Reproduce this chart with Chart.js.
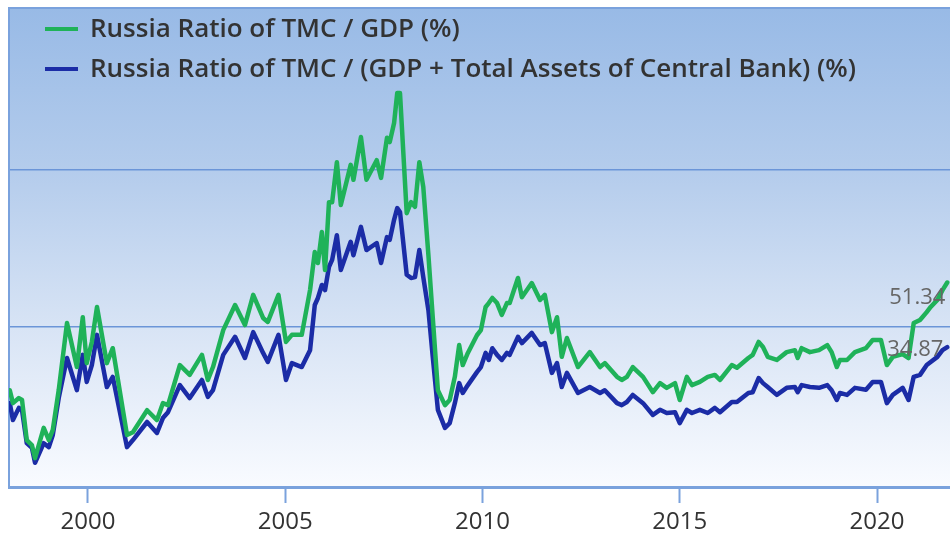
<!DOCTYPE html>
<html>
<head>
<meta charset="utf-8">
<script src="https://cdn.jsdelivr.net/npm/chart.js@4/dist/chart.umd.min.js"></script>
<style>
  html, body { margin: 0; padding: 0; background: #fff; overflow: hidden; }
  #wrap { width: 950px; height: 534px; }
</style>
</head>
<body>
<div id="wrap"><canvas id="tmcChart" width="950" height="534"></canvas></div>
<script>
// dates as decimal years
const dates = [
  1998.02, 1998.10, 1998.25, 1998.33, 1998.45, 1998.58, 1998.66, 1998.88, 1999.01, 1999.11,
  1999.26, 1999.47, 1999.72, 1999.87, 1999.97, 2000.10, 2000.23, 2000.48, 2000.63, 2000.99,
  2001.14, 2001.50, 2001.75, 2001.90, 2002.03, 2002.33, 2002.58, 2002.89, 2003.04, 2003.17,
  2003.43, 2003.73, 2003.98, 2004.19, 2004.44, 2004.56, 2004.83, 2005.02, 2005.17, 2005.42,
  2005.63, 2005.75, 2005.83, 2005.93, 2006.01, 2006.11, 2006.19, 2006.31, 2006.41, 2006.66,
  2006.73, 2006.92, 2007.06, 2007.32, 2007.43, 2007.58, 2007.65, 2007.76, 2007.84, 2007.91,
  2008.08, 2008.19, 2008.29, 2008.40, 2008.50, 2008.63, 2008.74, 2008.87, 2009.05, 2009.17,
  2009.30, 2009.41, 2009.50, 2009.63, 2009.86, 2009.96, 2010.08, 2010.16, 2010.25, 2010.37,
  2010.49, 2010.62, 2010.69, 2010.90, 2011.00, 2011.25, 2011.46, 2011.58, 2011.76, 2011.89,
  2012.01, 2012.14, 2012.42, 2012.72, 2012.98, 2013.10, 2013.41, 2013.53, 2013.66, 2013.81,
  2014.07, 2014.32, 2014.50, 2014.67, 2014.88, 2015.00, 2015.18, 2015.31, 2015.51, 2015.71,
  2015.89, 2016.02, 2016.32, 2016.45, 2016.74, 2016.85, 2017.00, 2017.11, 2017.23, 2017.46,
  2017.71, 2017.92, 2017.99, 2018.09, 2018.30, 2018.53, 2018.74, 2018.85, 2018.98, 2019.06,
  2019.24, 2019.44, 2019.72, 2019.89, 2020.10, 2020.25, 2020.40, 2020.65, 2020.80, 2020.93,
  2021.09, 2021.26, 2021.36, 2021.53, 2021.66, 2021.78
];

// Russia Ratio of TMC / GDP (%)
const tmcGdp = [
  23.9, 20.6, 21.9, 21.4, 11.2, 9.9, 6.6, 14.3, 11.2, 13.8,
  23.9, 41.0, 29.8, 42.5, 30.8, 36.2, 45.1, 30.8, 34.6, 12.5,
  13.2, 18.8, 16.3, 20.6, 20.1, 30.3, 27.8, 32.9, 26.5, 29.8,
  39.2, 45.6, 40.5, 48.2, 42.3, 41.3, 48.2, 36.2, 38.0, 38.0,
  49.4, 59.1, 56.3, 64.2, 54.5, 71.8, 71.8, 82.0, 71.1, 81.3,
  77.5, 88.4, 77.5, 82.5, 78.0, 88.2, 87.1, 92.0, 99.6, 99.6,
  69.0, 71.8, 70.6, 82.0, 75.7, 58.3, 42.5, 23.9, 20.1, 21.4,
  27.3, 35.4, 30.3, 33.4, 37.9, 39.2, 45.1, 46.1, 47.4, 46.1,
  43.1, 46.1, 46.1, 52.5, 47.6, 51.2, 46.9, 48.2, 38.7, 42.5,
  32.4, 37.2, 29.8, 33.6, 29.8, 30.8, 27.3, 26.5, 27.3, 29.8,
  27.3, 23.4, 25.7, 24.5, 25.7, 21.4, 27.3, 25.2, 26.0, 27.3,
  27.8, 26.5, 30.3, 29.6, 32.1, 32.9, 36.2, 34.9, 32.4, 31.6,
  33.6, 34.1, 32.1, 34.6, 33.6, 34.1, 35.4, 33.6, 29.8, 31.6,
  31.6, 33.6, 34.6, 36.7, 36.7, 30.3, 32.4, 33.1, 32.1, 41.0,
  41.8, 43.8, 45.1, 46.9, 49.4, 51.34
];

// Russia Ratio of TMC / (GDP + Total Assets of Central Bank) (%)
const tmcGdpCb = [
  20.6, 16.3, 19.4, 18.8, 10.4, 9.2, 5.4, 10.4, 9.4, 12.5,
  21.9, 32.1, 23.9, 32.9, 26.0, 30.3, 38.0, 24.7, 27.3, 9.4,
  11.2, 15.8, 13.0, 16.8, 18.3, 25.2, 21.9, 26.5, 22.2, 23.9,
  32.9, 37.5, 32.1, 38.7, 33.4, 31.1, 38.0, 26.5, 30.8, 29.8,
  34.1, 45.6, 47.4, 50.7, 49.4, 55.3, 57.1, 63.4, 54.5, 61.7,
  58.3, 65.5, 59.6, 61.4, 56.3, 62.9, 62.2, 67.3, 70.3, 69.3,
  53.3, 52.5, 52.7, 59.6, 52.7, 44.3, 32.4, 18.9, 14.3, 15.5,
  20.6, 25.7, 23.2, 25.2, 28.5, 29.8, 33.4, 31.6, 34.6, 32.9,
  31.6, 33.4, 32.9, 37.5, 35.9, 38.5, 35.4, 35.9, 28.3, 30.8,
  24.7, 28.3, 23.2, 24.7, 23.2, 23.9, 20.6, 20.1, 20.9, 22.7,
  20.6, 17.6, 18.9, 18.1, 18.3, 15.5, 18.9, 18.1, 18.9, 18.1,
  19.4, 18.3, 20.9, 20.9, 23.2, 23.4, 27.0, 25.7, 24.7, 22.7,
  24.5, 24.7, 23.4, 25.2, 24.7, 24.5, 25.2, 23.9, 21.4, 23.2,
  22.7, 24.5, 24.0, 26.0, 26.0, 20.6, 22.7, 24.5, 21.4, 27.3,
  27.8, 30.3, 31.1, 32.4, 34.1, 34.87
];

const seriesNames = [
  "Russia Ratio of TMC / GDP (%)",
  "Russia Ratio of TMC / (GDP + Total Assets of Central Bank) (%)"
];
const seriesColors = ["#1fb259", "#1b2ca6"];
const tickYears = [2000, 2005, 2010, 2015, 2020];
const gridValues = [40, 80];

const FONT = "'Open Sans', 'DejaVu Sans', sans-serif";

// blue gradient behind the plot plus the top frame line
const backdrop = {
  id: "backdrop",
  beforeDraw(chart) {
    const { ctx, chartArea: a } = chart;
    const g = ctx.createLinearGradient(0, a.top, 0, a.bottom);
    g.addColorStop(0, "#98bae6");
    g.addColorStop(0.34, "#b4ccec");
    g.addColorStop(0.67, "#d8e4f5");
    g.addColorStop(1, "#f9fbff");
    ctx.save();
    ctx.fillStyle = g;
    ctx.fillRect(a.left, a.top, a.right - a.left, a.bottom - a.top);
    ctx.strokeStyle = "#7aa2dd";
    ctx.lineWidth = 2;
    ctx.beginPath();
    ctx.moveTo(a.left, a.top);
    ctx.lineTo(a.right, a.top);
    ctx.stroke();
    ctx.restore();
  }
};

// legend inside the plot and the last-value labels
const overlay = {
  id: "overlay",
  afterDatasetsDraw(chart) {
    const { ctx, chartArea: a } = chart;
    const xs = chart.scales.x, ys = chart.scales.y;
    ctx.save();

    // last values
    ctx.font = "22px " + FONT;
    ctx.fillStyle = "#666";
    ctx.textBaseline = "middle";
    ctx.textAlign = "left";
    const last = dates.length - 1;
    const lx = xs.getPixelForValue(dates[last]) - 58;
    ctx.fillText(tmcGdp[last].toFixed(2), lx, ys.getPixelForValue(tmcGdp[last]) + 15);
    ctx.fillText(tmcGdpCb[last].toFixed(2), lx - 2, ys.getPixelForValue(tmcGdpCb[last]) + 3);

    // legend
    ctx.font = "600 26px " + FONT;
    chart.data.datasets.forEach((ds, i) => {
      const y = a.top + 21 + i * 40;
      ctx.strokeStyle = ds.borderColor;
      ctx.lineWidth = 4;
      ctx.beginPath();
      ctx.moveTo(a.left + 36, y);
      ctx.lineTo(a.left + 69, y);
      ctx.stroke();
      ctx.fillStyle = "#333";
      ctx.fillText(ds.label, a.left + 81, y + 1);
    });
    ctx.restore();
  }
};

const ctx = document.getElementById("tmcChart").getContext("2d");

new Chart(ctx, {
  type: "line",
  data: {
    datasets: [
      {
        label: seriesNames[0],
        data: dates.map((d, i) => ({ x: d, y: tmcGdp[i] })),
        borderColor: seriesColors[0],
        borderWidth: 4.5
      },
      {
        label: seriesNames[1],
        data: dates.map((d, i) => ({ x: d, y: tmcGdpCb[i] })),
        borderColor: seriesColors[1],
        borderWidth: 4.5
      }
    ]
  },
  options: {
    responsive: false,
    animation: false,
    devicePixelRatio: 1,
    layout: { padding: { left: 9, top: 8, right: 0, bottom: 0 } },
    elements: {
      point: { radius: 0 },
      line: { tension: 0, borderJoinStyle: "round", borderCapStyle: "round" }
    },
    plugins: {
      legend: { display: false },
      tooltip: { enabled: false }
    },
    scales: {
      x: {
        type: "linear",
        min: 1998.0,
        max: 2021.85,
        afterBuildTicks: (s) => { s.ticks = tickYears.map((v) => ({ value: v })); },
        afterFit: (s) => { s.height = 47; },
        ticks: {
          autoSkip: false,
          maxRotation: 0,
          padding: 5,
          color: "#333",
          font: { family: FONT, size: 24 },
          callback: (v) => String(v)
        },
        grid: {
          drawOnChartArea: false,
          drawTicks: true,
          tickLength: 16,
          tickColor: "#7ba2dd",
          tickWidth: 2
        },
        border: { color: "#7aa2dd", width: 3 }
      },
      y: {
        min: -0.76,
        max: 121.27,
        afterBuildTicks: (s) => { s.ticks = gridValues.map((v) => ({ value: v })); },
        afterFit: (s) => { s.width = 0; },
        ticks: { display: false },
        grid: { color: "#6b95d8", lineWidth: 1.5, drawTicks: false },
        border: { color: "#7aa2dd", width: 2 }
      }
    }
  },
  plugins: [backdrop, overlay]
});
</script>
</body>
</html>
